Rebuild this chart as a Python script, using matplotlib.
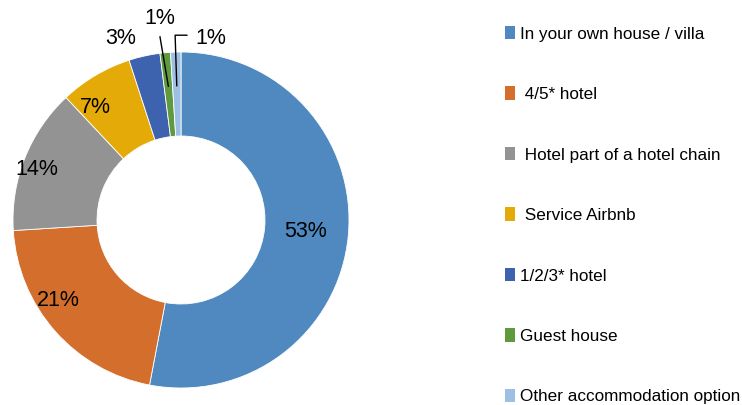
import matplotlib.pyplot as plt
from matplotlib.patches import Patch
import numpy as np

labels = ["In your own house / villa", " 4/5* hotel", " Hotel part of a hotel chain",
          " Service Airbnb", "1/2/3* hotel", "Guest house", "Other accommodation option"]
values = [53, 21, 14, 7, 3, 1, 1]
colors = ["#4f89bf", "#d36e2c", "#939393", "#e4aa07", "#3e63ae", "#5f9a3e", "#9cbfe3"]

# label spots in units of the outer radius
lab_xy = [(0.74, -0.07), (-0.73, -0.48), (-0.86, 0.30), (-0.51, 0.67),
          (-0.36, 1.08), (-0.125, 1.20), (0.175, 1.08)]

plt.rcParams['font.family'] = ['Liberation Sans', 'DejaVu Sans']

fig = plt.figure(figsize=(7.42, 4.05), dpi=100)
ax = fig.add_axes([13 / 742, 17 / 405, 336 / 742, 336 / 405])
wedges, _ = ax.pie(values, colors=colors, startangle=90, counterclock=False,
                   radius=1, wedgeprops=dict(width=0.5, edgecolor='white', linewidth=0.6))
ax.set_xlim(-1, 1)
ax.set_ylim(-1, 1)
ax.set_aspect('equal')

for i, w in enumerate(wedges):
    x, y = lab_xy[i]
    ax.text(x, y, f"{values[i]}%", ha='center', va='center', fontsize=15.5, clip_on=False)
    mid = np.deg2rad((w.theta1 + w.theta2) / 2)
    ex, ey = 0.8 * np.cos(mid), 0.8 * np.sin(mid)
    if i == 5:
        ax.plot([x + 0.0, ex], [y - 0.11, ey], color='black', lw=1, clip_on=False)
    elif i == 6:
        ax.plot([x - 0.14, x - 0.21, ex], [y + 0.02, y + 0.02, ey], color='black', lw=1, clip_on=False)

handles = [Patch(facecolor=c, edgecolor='none') for c in colors]
fig.legend(handles, labels, loc='upper left', bbox_to_anchor=(498 / 742, 1 - 19 / 405),
           frameon=False, fontsize=12.3, handlelength=0.6, handleheight=0.85,
           handletextpad=0.3, labelspacing=2.62, borderaxespad=0)

fig.savefig("out.png", dpi=100)
